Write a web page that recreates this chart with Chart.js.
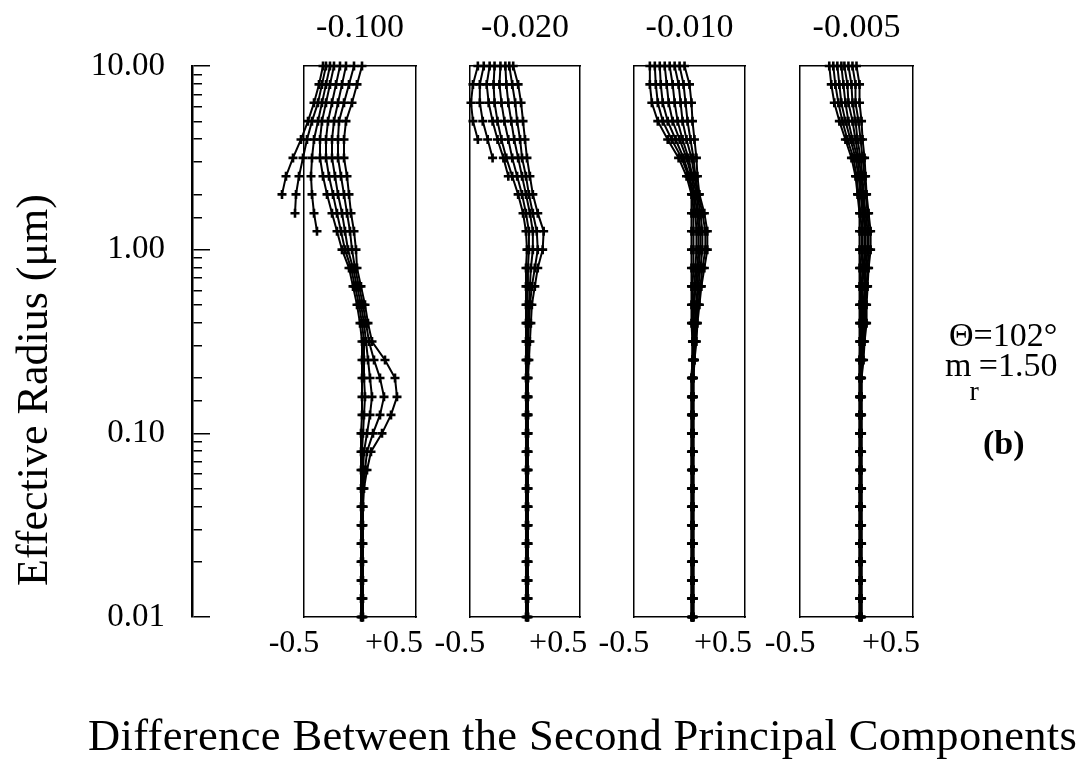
<!DOCTYPE html>
<html>
<head>
<meta charset="utf-8">
<script src="https://cdn.jsdelivr.net/npm/chart.js@4.4.1/dist/chart.umd.min.js"></script>
<style>
  html, body { margin: 0; padding: 0; background: #fff; }
  #wrap { position: relative; width: 1078px; height: 763px; overflow: hidden;
          font-family: "Liberation Serif", serif; color: #000; }
  #wrap canvas { position: absolute; left: 0; top: 0; }
  .note { position: absolute; white-space: nowrap; line-height: 1; }
  #ytitle { position: absolute; left: -167px; top: 368px; width: 400px; height: 44px;
            font-size: 44px; line-height: 44px; text-align: center; white-space: nowrap;
            transform: rotate(-90deg); transform-origin: 50% 50%; }
</style>
</head>
<body>
<div id="wrap">
  <canvas id="axisY" width="1078" height="763"></canvas>
  <canvas id="f1" width="1078" height="763"></canvas>
  <canvas id="f2" width="1078" height="763"></canvas>
  <canvas id="f3" width="1078" height="763"></canvas>
  <canvas id="f4" width="1078" height="763"></canvas>
  <canvas id="p1" width="1078" height="763"></canvas>
  <canvas id="p2" width="1078" height="763"></canvas>
  <canvas id="p3" width="1078" height="763"></canvas>
  <canvas id="p4" width="1078" height="763"></canvas>
  <div id="ytitle">Effective Radius (μm)</div>
  <div class="note" style="left:949px; top:318px; font-size:34px;">&Theta;=102&deg;</div>
  <div class="note" style="left:945px; top:348px; font-size:34px;">m<span style="position:relative; top:24px; font-size:28px; margin-left:-2px;">r</span>=1.50</div>
  <div class="note" style="left:983px; top:426px; font-size:34px; font-weight:bold;">(b)</div>
  <div class="note" style="left:88px; top:713px; font-size:44.5px; letter-spacing:0.35px;">Difference Between the Second Principal Components</div>
</div>
<script>
/* effective radius (µm) of each row */
const RADII = [0.01, 0.0126, 0.0158, 0.02, 0.0251, 0.0316, 0.0398, 0.0501, 0.0631, 0.0794,
               0.1, 0.126, 0.158, 0.2, 0.251, 0.316, 0.398, 0.501, 0.631, 0.794,
               1, 1.26, 1.58, 2, 2.51, 3.16, 3.98, 5.01, 6.31, 7.94, 10];
const PANEL_TITLES = ['-0.100', '-0.020', '-0.010', '-0.005'];
const X_TICKS = [-0.5, 0.5];
const Y_LABELS = [0.01, 0.1, 1, 10];
const _ = null;

/* one row per radius, one value per curve */
const DIFF_100 = [
  [_, _, _, 0.01, 0.02, 0.02, 0.02, 0.03],
  [_, _, _, 0.01, 0.02, 0.02, 0.02, 0.03],
  [_, _, _, 0.01, 0.02, 0.02, 0.02, 0.03],
  [_, _, _, 0.01, 0.02, 0.02, 0.02, 0.03],
  [_, _, _, 0.01, 0.02, 0.02, 0.02, 0.03],
  [_, _, _, 0.01, 0.02, 0.02, 0.02, 0.03],
  [_, _, _, 0.01, 0.02, 0.02, 0.03, 0.03],
  [_, _, _, 0.01, 0.02, 0.03, 0.03, 0.04],
  [_, _, _, 0.01, 0.02, 0.03, 0.05, 0.07],
  [_, _, _, 0.01, 0.02, 0.04, 0.07, 0.11],
  [_, _, _, 0.01, 0.03, 0.07, 0.13, 0.22],
  [_, _, _, 0.02, 0.04, 0.10, 0.20, 0.31],
  [_, _, _, 0.02, 0.05, 0.12, 0.24, 0.37],
  [_, _, _, 0.02, 0.04, 0.10, 0.20, 0.35],
  [_, _, _, 0.02, 0.04, 0.08, 0.14, 0.25],
  [_, _, _, 0.02, 0.04, 0.06, 0.09, 0.12],
  [_, _, _, 0.00, 0.02, 0.04, 0.06, 0.08],
  [_, _, _, -0.03, -0.01, 0.01, 0.03, 0.05],
  [_, _, _, -0.07, -0.05, -0.03, -0.01, 0.01],
  [_, _, _, -0.11, -0.09, -0.07, -0.05, -0.03],
  [_, _, _, -0.18, -0.15, -0.12, -0.08, -0.04],
  [_, _, -0.43, -0.23, -0.19, -0.15, -0.10, -0.06],
  [_, -0.65, -0.46, -0.28, -0.23, -0.18, -0.13, -0.09],
  [-0.78, -0.64, -0.48, -0.33, -0.27, -0.22, -0.16, -0.11],
  [-0.74, -0.61, -0.49, -0.37, -0.31, -0.25, -0.19, -0.13],
  [-0.67, -0.57, -0.48, -0.40, -0.34, -0.28, -0.22, -0.16],
  [-0.59, -0.53, -0.46, -0.40, -0.34, -0.28, -0.22, -0.16],
  [-0.52, -0.48, -0.42, -0.38, -0.32, -0.26, -0.21, -0.14],
  [-0.46, -0.42, -0.38, -0.34, -0.28, -0.22, -0.16, -0.08],
  [-0.41, -0.38, -0.34, -0.30, -0.24, -0.18, -0.11, -0.03],
  [-0.37, -0.34, -0.30, -0.26, -0.20, -0.14, -0.06, 0.02]
];

const DIFF_020 = [
  [_, _, _, 0.01, 0.02, 0.02, 0.03, 0.03],
  [_, _, _, 0.01, 0.02, 0.02, 0.03, 0.03],
  [_, _, _, 0.01, 0.02, 0.02, 0.03, 0.03],
  [_, _, _, 0.01, 0.02, 0.02, 0.03, 0.03],
  [_, _, _, 0.01, 0.02, 0.02, 0.03, 0.03],
  [_, _, _, 0.01, 0.02, 0.02, 0.03, 0.03],
  [_, _, _, 0.01, 0.02, 0.02, 0.03, 0.03],
  [_, _, _, 0.01, 0.02, 0.02, 0.03, 0.03],
  [_, _, _, 0.01, 0.02, 0.02, 0.03, 0.03],
  [_, _, _, 0.01, 0.02, 0.02, 0.03, 0.03],
  [_, _, _, 0.01, 0.02, 0.02, 0.03, 0.03],
  [_, _, _, 0.01, 0.02, 0.02, 0.03, 0.03],
  [_, _, _, 0.01, 0.02, 0.02, 0.03, 0.03],
  [_, _, _, 0.01, 0.02, 0.02, 0.03, 0.03],
  [_, _, _, 0.01, 0.02, 0.02, 0.03, 0.04],
  [_, _, _, 0.01, 0.02, 0.02, 0.03, 0.05],
  [_, _, _, 0.01, 0.02, 0.03, 0.04, 0.06],
  [_, _, _, 0.01, 0.02, 0.04, 0.05, 0.07],
  [_, _, _, 0.01, 0.03, 0.05, 0.07, 0.10],
  [_, _, _, 0.01, 0.03, 0.06, 0.10, 0.13],
  [_, _, _, 0.02, 0.04, 0.08, 0.13, 0.18],
  [_, _, _, 0.01, 0.04, 0.08, 0.12, 0.19],
  [_, _, _, -0.02, 0.01, 0.05, 0.08, 0.13],
  [_, _, _, -0.07, -0.03, 0.01, 0.04, 0.08],
  [_, _, -0.17, -0.13, -0.08, -0.03, 0.01, 0.05],
  [_, -0.33, -0.22, -0.19, -0.13, -0.07, -0.03, 0.02],
  [-0.48, -0.38, -0.28, -0.24, -0.17, -0.11, -0.05, 0.00],
  [-0.53, -0.43, -0.33, -0.28, -0.21, -0.14, -0.08, -0.02],
  [-0.55, -0.46, -0.37, -0.31, -0.24, -0.17, -0.10, -0.04],
  [-0.53, -0.46, -0.39, -0.32, -0.26, -0.19, -0.13, -0.07],
  [-0.48, -0.42, -0.36, -0.31, -0.25, -0.20, -0.16, -0.12]
];

const DIFF_010 = [
  [0.02, 0.02, 0.03, 0.03, 0.03, 0.03, 0.04, 0.04],
  [0.02, 0.02, 0.03, 0.03, 0.03, 0.03, 0.04, 0.04],
  [0.02, 0.02, 0.03, 0.03, 0.03, 0.03, 0.04, 0.04],
  [0.02, 0.02, 0.03, 0.03, 0.03, 0.03, 0.04, 0.04],
  [0.02, 0.02, 0.03, 0.03, 0.03, 0.03, 0.04, 0.04],
  [0.02, 0.02, 0.03, 0.03, 0.03, 0.03, 0.04, 0.04],
  [0.02, 0.02, 0.03, 0.03, 0.03, 0.03, 0.04, 0.04],
  [0.02, 0.02, 0.03, 0.03, 0.03, 0.03, 0.04, 0.04],
  [0.02, 0.02, 0.03, 0.03, 0.03, 0.03, 0.04, 0.04],
  [0.02, 0.02, 0.03, 0.03, 0.03, 0.03, 0.04, 0.04],
  [0.02, 0.02, 0.03, 0.03, 0.03, 0.03, 0.04, 0.04],
  [0.02, 0.02, 0.03, 0.03, 0.03, 0.03, 0.04, 0.04],
  [0.02, 0.02, 0.03, 0.03, 0.03, 0.03, 0.04, 0.04],
  [0.02, 0.02, 0.03, 0.03, 0.03, 0.03, 0.04, 0.04],
  [0.03, 0.03, 0.03, 0.04, 0.04, 0.04, 0.05, 0.05],
  [0.03, 0.03, 0.04, 0.04, 0.05, 0.05, 0.06, 0.07],
  [0.02, 0.03, 0.04, 0.04, 0.05, 0.06, 0.07, 0.08],
  [0.02, 0.03, 0.04, 0.05, 0.07, 0.08, 0.09, 0.10],
  [0.02, 0.03, 0.05, 0.06, 0.08, 0.09, 0.11, 0.12],
  [0.02, 0.04, 0.06, 0.08, 0.09, 0.11, 0.13, 0.15],
  [0.02, 0.04, 0.07, 0.09, 0.11, 0.13, 0.16, 0.18],
  [0.02, 0.04, 0.07, 0.09, 0.11, 0.13, 0.16, 0.18],
  [0.02, 0.04, 0.06, 0.08, 0.09, 0.11, 0.13, 0.15],
  [0.02, 0.03, 0.04, 0.05, 0.07, 0.08, 0.09, 0.10],
  [-0.03, -0.01, 0.00, 0.02, 0.03, 0.05, 0.06, 0.08],
  [-0.11, -0.08, -0.06, -0.03, -0.01, 0.02, 0.04, 0.07],
  [-0.22, -0.18, -0.14, -0.10, -0.07, -0.03, 0.01, 0.05],
  [-0.32, -0.27, -0.22, -0.17, -0.12, -0.07, -0.02, 0.03],
  [-0.38, -0.32, -0.27, -0.21, -0.15, -0.09, -0.04, 0.02],
  [-0.40, -0.34, -0.29, -0.23, -0.17, -0.11, -0.06, 0.00],
  [-0.40, -0.35, -0.30, -0.25, -0.20, -0.15, -0.10, -0.05]
];

const DIFF_005 = [
  [0.03, 0.03, 0.04, 0.04, 0.04, 0.04, 0.05, 0.05],
  [0.03, 0.03, 0.04, 0.04, 0.04, 0.04, 0.05, 0.05],
  [0.03, 0.03, 0.04, 0.04, 0.04, 0.04, 0.05, 0.05],
  [0.03, 0.03, 0.04, 0.04, 0.04, 0.04, 0.05, 0.05],
  [0.03, 0.03, 0.04, 0.04, 0.04, 0.04, 0.05, 0.05],
  [0.03, 0.03, 0.04, 0.04, 0.04, 0.04, 0.05, 0.05],
  [0.03, 0.03, 0.04, 0.04, 0.04, 0.04, 0.05, 0.05],
  [0.03, 0.03, 0.04, 0.04, 0.04, 0.04, 0.05, 0.05],
  [0.03, 0.03, 0.04, 0.04, 0.04, 0.04, 0.05, 0.05],
  [0.03, 0.03, 0.04, 0.04, 0.04, 0.04, 0.05, 0.05],
  [0.03, 0.03, 0.04, 0.04, 0.04, 0.04, 0.05, 0.05],
  [0.03, 0.03, 0.04, 0.04, 0.04, 0.04, 0.05, 0.05],
  [0.03, 0.03, 0.04, 0.04, 0.04, 0.04, 0.05, 0.05],
  [0.03, 0.03, 0.04, 0.04, 0.04, 0.04, 0.05, 0.05],
  [0.03, 0.03, 0.04, 0.04, 0.05, 0.05, 0.06, 0.07],
  [0.03, 0.04, 0.04, 0.05, 0.06, 0.06, 0.07, 0.08],
  [0.03, 0.04, 0.05, 0.06, 0.07, 0.08, 0.09, 0.10],
  [0.03, 0.04, 0.05, 0.06, 0.07, 0.08, 0.09, 0.10],
  [0.03, 0.04, 0.05, 0.06, 0.08, 0.09, 0.10, 0.11],
  [0.03, 0.04, 0.06, 0.07, 0.08, 0.09, 0.11, 0.12],
  [0.03, 0.05, 0.06, 0.08, 0.09, 0.11, 0.12, 0.14],
  [0.03, 0.05, 0.06, 0.08, 0.09, 0.11, 0.12, 0.14],
  [0.03, 0.04, 0.06, 0.07, 0.08, 0.09, 0.11, 0.12],
  [0.01, 0.02, 0.04, 0.05, 0.06, 0.07, 0.09, 0.10],
  [-0.01, 0.00, 0.02, 0.03, 0.05, 0.06, 0.08, 0.09],
  [-0.05, -0.03, -0.01, 0.01, 0.02, 0.04, 0.06, 0.08],
  [-0.11, -0.09, -0.06, -0.04, -0.01, 0.01, 0.04, 0.06],
  [-0.17, -0.14, -0.11, -0.08, -0.04, -0.01, 0.02, 0.05],
  [-0.22, -0.18, -0.15, -0.11, -0.08, -0.04, -0.01, 0.03],
  [-0.25, -0.21, -0.17, -0.13, -0.09, -0.05, -0.01, 0.03],
  [-0.27, -0.23, -0.19, -0.15, -0.12, -0.08, -0.04, 0.00]
];

const SERIF = '"Liberation Serif", serif';
const W = 1078, H = 763;
const PLOT_TOP = 66, PLOT_BOTTOM = 617;
const X_MIN = -0.56, X_MAX = 0.56;
const SPARE = 45;   // room beside each box so stray points are not cut off

function isDecade(v) {
    return Y_LABELS.some(d => Math.abs(v / d - 1) < 1e-6);
}

/* left axis: log radius with inward ticks */
new Chart(document.getElementById('axisY'), {
    type: 'scatter',
    data: { datasets: [] },
    options: {
        responsive: false,
        animation: false,
        layout: { padding: { left: 0, right: W - 202 - 8, top: PLOT_TOP, bottom: H - PLOT_BOTTOM } },
        plugins: { legend: { display: false }, tooltip: { enabled: false } },
        scales: {
            x: { type: 'linear', display: false },
            y: {
                type: 'logarithmic', min: 0.01, max: 10,
                afterFit: s => { s.width = 192; },
                border: { display: true, color: '#000', width: 2.5 },
                grid: { drawOnChartArea: true, drawTicks: false, color: '#000', lineWidth: 1.5 },
                ticks: {
                    autoSkip: false, padding: 27, color: '#000',
                    font: { family: SERIF, size: 33 },
                    callback: v => isDecade(v) ? Number(v).toFixed(2) : ''
                }
            },
            y2: {
                type: 'logarithmic', position: 'right', axis: 'y', min: 0.01, max: 10,
                afterFit: s => { s.width = 8; },
                border: { display: false },
                grid: {
                    drawOnChartArea: false, drawTicks: true, tickLength: 8, lineWidth: 1.5,
                    color: c => (c.tick && isDecade(c.tick.value)) ? '#000' : 'rgba(0,0,0,0)'
                },
                ticks: { display: false, autoSkip: false }
            }
        }
    }
});

/* box, header and ±0.5 labels of a panel */
function drawFrame(id, title, box) {
    const edge = { display: true, color: '#000', width: 1.5 };
    new Chart(document.getElementById(id), {
        type: 'scatter',
        data: { datasets: [] },
        options: {
            responsive: false,
            animation: false,
            layout: { padding: { left: box[0], right: W - box[1], top: 0, bottom: H - PLOT_BOTTOM - 45 } },
            plugins: { legend: { display: false }, tooltip: { enabled: false } },
            scales: {
                x: {
                    type: 'linear', min: X_MIN, max: X_MAX,
                    afterBuildTicks: s => { s.ticks = X_TICKS.map(v => ({ value: v })); },
                    afterFit: s => { s.height = 45; },
                    border: edge,
                    grid: { display: false, drawTicks: false },
                    ticks: {
                        autoSkip: false, maxRotation: 0, padding: 7, labelOffset: -16,
                        color: '#000', font: { family: SERIF, size: 32 },
                        callback: v => (v > 0 ? '+' : '') + v.toFixed(1)
                    }
                },
                xTop: {
                    type: 'linear', position: 'top', axis: 'x', min: 0, max: 1,
                    afterFit: s => { s.height = PLOT_TOP; },
                    border: edge,
                    grid: { display: false, drawTicks: false },
                    ticks: { display: false },
                    title: {
                        display: true, text: title, color: '#000',
                        font: { family: SERIF, size: 34 }, padding: { top: 8, bottom: 0 }
                    }
                },
                y: {
                    type: 'logarithmic', min: 0.01, max: 10,
                    afterFit: s => { s.width = 0; },
                    border: edge,
                    grid: { display: false, drawTicks: false },
                    ticks: { display: false }
                },
                yRight: {
                    type: 'linear', position: 'right', axis: 'y', min: 0, max: 1,
                    afterFit: s => { s.width = 0; },
                    border: edge,
                    grid: { display: false, drawTicks: false },
                    ticks: { display: false }
                }
            }
        }
    });
}

/* the curves of a panel, on the same scale as its box but with spare room at the sides */
function drawCurves(id, rows, box) {
    const perUnit = (box[1] - box[0]) / (X_MAX - X_MIN);
    const datasets = [];
    for (let k = 0; k < rows[0].length; k++) {
        const pts = [];
        rows.forEach((row, j) => {
            if (row[k] !== null) pts.push({ x: row[k], y: RADII[j] });
        });
        datasets.push({
            data: pts,
            showLine: true,
            borderColor: '#000',
            borderWidth: 2,
            pointStyle: 'cross',
            pointRadius: 4.5,
            pointBorderWidth: 2.6,
            pointBorderColor: '#000',
            pointBackgroundColor: '#000',
            clip: false
        });
    }
    new Chart(document.getElementById(id), {
        type: 'scatter',
        data: { datasets },
        options: {
            responsive: false,
            animation: false,
            layout: { padding: { left: box[0] - SPARE, right: W - box[1] - SPARE, top: PLOT_TOP, bottom: H - PLOT_BOTTOM } },
            plugins: { legend: { display: false }, tooltip: { enabled: false } },
            scales: {
                x: { type: 'linear', display: false, min: X_MIN - SPARE / perUnit, max: X_MAX + SPARE / perUnit },
                y: { type: 'logarithmic', display: false, min: 0.01, max: 10 }
            }
        }
    });
}

const BOXES = [[304, 416], [470, 580], [634, 745], [800, 913]];
const PANELS = [DIFF_100, DIFF_020, DIFF_010, DIFF_005];
PANELS.forEach((rows, i) => {
    drawFrame('f' + (i + 1), PANEL_TITLES[i], BOXES[i]);
    drawCurves('p' + (i + 1), rows, BOXES[i]);
});
</script>
</body>
</html>
